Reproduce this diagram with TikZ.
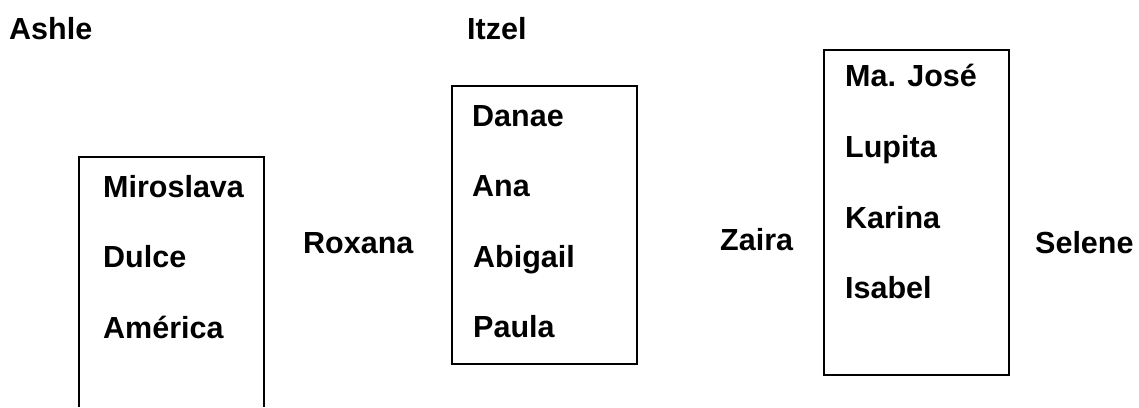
\documentclass[tikz,border=0pt]{standalone}
\usepackage{fontspec}
\setmainfont{Liberation Sans}
\tikzset{
  lbl/.style={anchor=base west, inner sep=0pt, font=\fontsize{30.5}{36}\selectfont\bfseries},
  boxframe/.style={draw=black, line width=2pt, inner sep=0pt, anchor=north west},
}
\begin{document}
\begin{tikzpicture}[x=1pt,y=-1pt]
\useasboundingbox[fill=white] (0,0) rectangle (1139,407);
% box 1 (open at bottom, runs off the picture)
\coordinate (b1bl) at (79,407);
\coordinate (b1tl) at (79,157);
\coordinate (b1tr) at (264,157);
\coordinate (b1br) at (264,407);
\draw[line width=2pt] (b1bl) -- (b1tl) -- (b1tr) -- (b1br);
% box 2
\node[boxframe, minimum width=185pt, minimum height=278pt] (b2) at (451,85) {};
% box 3
\node[boxframe, minimum width=185pt, minimum height=325pt] (b3) at (823,49) {};
% labels
\node[lbl] (ashle) at (9,39) {Ashle};
\node[lbl] (itzel) at (467,39) {Itzel};
\node[lbl] (miro) at (103,197) {Miroslava};
\node[lbl] (dulce) at (103,267) {Dulce};
\node[lbl] (amer) at (103,338) {América};
\node[lbl] (roxana) at (303,253) {Roxana};
\node[lbl] (danae) at (472,126) {Danae};
\node[lbl] (ana) at (472,196) {Ana};
\node[lbl] (abi) at (473,267) {Abigail};
\node[lbl] (paula) at (473,337) {Paula};
\node[lbl] (zaira) at (720,250) {Zaira};
\node[lbl] (majose) at (845,86) {Ma. José};
\node[lbl] (lupita) at (845,157) {Lupita};
\node[lbl] (karina) at (845,228) {Karina};
\node[lbl] (isabel) at (845,298) {Isabel};
\node[lbl] (selene) at (1035,253) {Selene};
\end{tikzpicture}
\end{document}
